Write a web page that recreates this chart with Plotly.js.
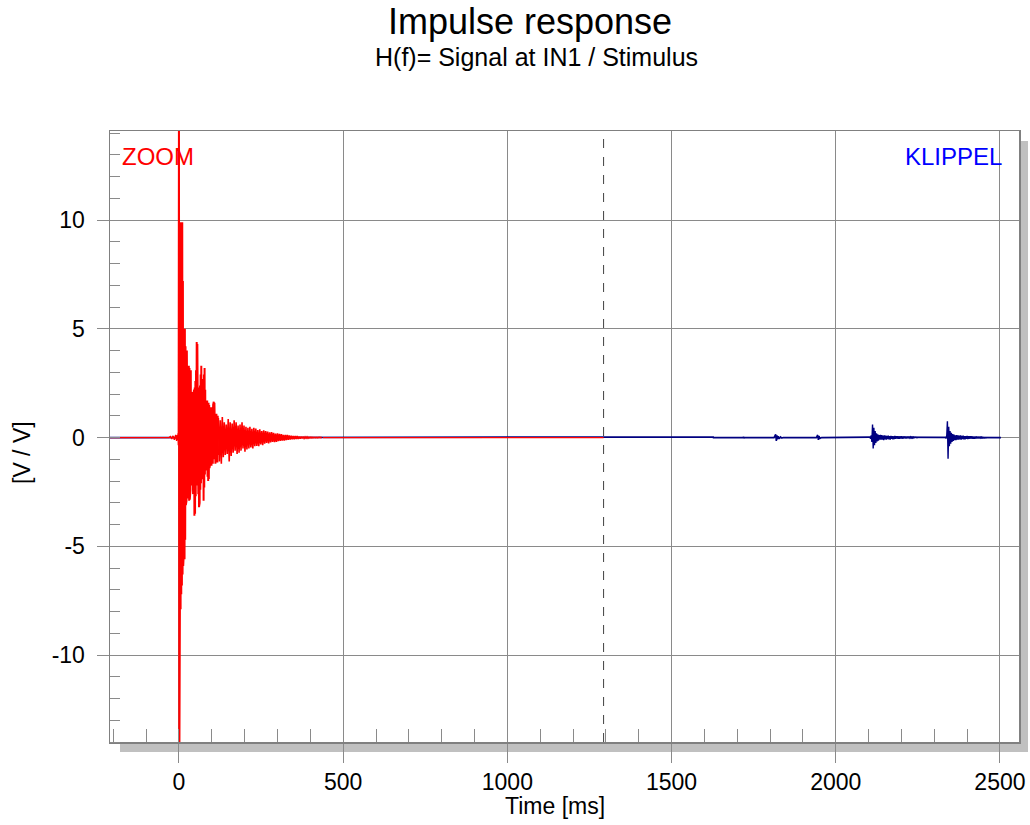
<!DOCTYPE html>
<html>
<head>
<meta charset="utf-8">
<script src="https://cdn.plot.ly/plotly-3.0.1.min.js"></script>
<style>html,body{margin:0;padding:0;background:#fff;}#chart{width:1030px;height:825px;}</style>
</head>
<body>
<div id="chart"></div>
<script>
// ---- Data ----
// Red "ZOOM" trace: lead-in before the impulse (time ms / value V/V)
var redPreT = [-210, -30, -26, -22, -18, -14, -10, -7, -5];
var redPreV = [0, 0, 0.05, -0.06, 0.08, -0.1, 0.12, -0.15, 0.12];
// Red head: samples every 1 ms starting at -4 ms
var redHeadStart = -4, redHeadStep = 1;
var redHeadV = [
  0.08, -0.12, 0.18, -0.35, 16, -16, 10.0, -7.4, 9.8, -7.9,
  9.9, -7.2, 9.6, -6.8, 9.9, -6.3, 7.2, -5.9, 5.4, -5.2,
  4.8, -5.6, 5.0, -4.7, 4.2, -3.1, 3.6, -2.9, 4.0, -2.6,
  3.4, -2.8, 3.1, -2.5, 3.3, -2.9, 3.2, -2.85, 2.7, -2.4,
  3.1, -2.2, 2.5, -2.0, 2.1, -2.3, 1.9, -2.6, 2.0, -3.0,
  2.2, -3.6, 2.3, -3.5, 2.6, -2.7, 3.1, -2.2, 4.4, -1.9,
  4.3, -2.1, 2.8, -2.6, 2.3, -3.2, 2.1, -3.0, 2.4, -2.4,
  2.9, -2.1, 3.3, -1.9, 2.6, -1.8, 2.4, -2.5, 2.7, -2.9,
  2.9, -2.3, 3.2, -1.7, 2.2, -1.5, 1.8, -1.4, 1.6, -1.6,
  1.7, -1.8, 1.5, -2.0, 1.6, -1.9, 1.5, -1.4, 1.3, -1.2,
  1.4, -1.1, 1.2, -1.3, 1.4, -1.0, 1.3, -1.2, 1.5, -0.9,
  1.65, -1.0, 1.6, -1.1, 1.2, -1.2, 1.0, -0.9, 1.1, -1.0,
  0.9, -1.15, 1.0, -0.8
];
// Red tail: samples every 3 ms starting at 120 ms
var redTailStart = 120, redTailStep = 3;
var redTailV = [
  0.9, -1.1, 0.8, -1.2, 0.95, -0.9, 0.7, -0.8, 0.6, -0.75,
  0.85, -1.1, 0.7, -0.85, 0.65, -0.7, 0.8, -0.6, 0.7, -0.75,
  0.55, -0.7, 0.6, -0.6, 0.7, -0.5, 0.55, -0.65, 0.5, -0.55,
  0.45, -0.5, 0.5, -0.45, 0.4, -0.5, 0.45, -0.4, 0.42, -0.38,
  0.35, -0.4, 0.38, -0.32, 0.3, -0.35, 0.33, -0.28, 0.3, -0.25,
  0.28, -0.27, 0.24, -0.22, 0.25, -0.2, 0.22, -0.21, 0.18, -0.2,
  0.19, -0.16, 0.17, -0.15, 0.16, -0.14, 0.13, -0.14, 0.12, -0.11,
  0.12, -0.1, 0.1, -0.09, 0.09, -0.08, 0.08, -0.08, 0.07, -0.06,
  0.07, -0.06, 0.05, -0.05, 0.05, -0.04, 0.04, -0.04, 0.03, -0.03,
  0.03, -0.03, 0.02, -0.02, 0.02, -0.02, 0.02, -0.01, 0.01, -0.01,
  0.01, -0.01, 0.01, 0, 0, 0
];
var redPostT = [438, 1293];
var redPostV = [0, 0];

// Blue "KLIPPEL" trace: sparse part (time ms / value V/V)
var blueT = [-210, 1626, 1627, 1628, 1629, 1718, 1719, 1720, 1721, 1812, 1815, 1817, 1819, 1821, 1823, 1825, 1828, 1832, 1836, 1840,
             1941, 1943, 1945, 1947, 1949, 1952, 1957, 2104, 2460, 2503];
var blueV = [0, 0, 0.03, -0.03, 0, 0, 0.04, -0.04, 0, 0, 0.06, 0.15, -0.15, 0.1, -0.08, 0.06, -0.05, 0.03, -0.02, 0,
             0, 0.05, 0.12, -0.11, 0.07, -0.04, 0, 0.02, 0, 0];
// Blue echo 1: samples every 2 ms from 2104 ms
var blueEcho1Start = 2104, blueEcho1Step = 2;
var blueEcho1V = [
  0.02, -0.05, 0.1, -0.2, 0.6, -0.5, 0.45, -0.35, 0.3, -0.25,
  0.2, -0.18, 0.15, -0.14, 0.12, -0.1, 0.13, -0.09, 0.11, -0.1,
  0.09, -0.12, 0.1, -0.08, 0.09, -0.1, 0.08, -0.07, 0.09, -0.08,
  0.07, -0.09, 0.08, -0.06, 0.07, -0.08, 0.06, -0.07, 0.08, -0.06,
  0.06, -0.05, 0.07, -0.06, 0.05, -0.06, 0.05, -0.04, 0.06, -0.05,
  0.04, -0.04, 0.05, -0.03, 0.04, -0.04, 0.03, -0.03, 0.04, -0.03,
  0.03, -0.02, 0.03, -0.02, 0.02, -0.02, 0.02, -0.01, 0.01, -0.01,
  0.01, 0, 0, 0
];
// Blue echo 2: samples every 2 ms from 2334 ms
var blueEcho2Start = 2334, blueEcho2Step = 2;
var blueEcho2V = [
  0.02, -0.04, 0.1, 0.75, -0.97, 0.5, -0.4, 0.3, -0.28, 0.22,
  -0.2, 0.16, -0.15, 0.14, -0.12, 0.1, -0.12, 0.11, -0.09, 0.1,
  -0.1, 0.09, -0.08, 0.1, -0.09, 0.08, -0.07, 0.09, -0.08, 0.07,
  -0.08, 0.07, -0.06, 0.08, -0.07, 0.06, -0.06, 0.07, -0.05, 0.06,
  -0.05, 0.05, -0.06, 0.04, -0.05, 0.04, -0.04, 0.05, -0.03, 0.04,
  -0.03, 0.03, -0.03, 0.02, -0.02, 0.02, -0.02, 0.01, -0.01, 0.01,
  -0.01, 0, 0, 0
];
var windowEnd = 1293; // dashed marker (ms)

// Tick labels
var xTickVals = [0, 500, 1000, 1500, 2000, 2500];
var xTickText = ['0', '500', '1000', '1500', '2000', '2500'];
var yTickVals = [-10, -5, 0, 5, 10];
var yTickText = ['-10', '-5', '0', '5', '10'];

// ---- Styling ----
var RED = '#ff0000', NAVY = '#000080';
var FONT = 'Liberation Sans, Arial, sans-serif';
var ln = function(c, w){ return {color: c, width: w}; };

var traces = [
  {type:'scatter', mode:'lines', x: blueT, y: blueV, line: ln(NAVY, 1.6), hoverinfo:'skip'},
  {type:'scatter', mode:'lines', x0: blueEcho1Start, dx: blueEcho1Step, y: blueEcho1V, line: ln(NAVY, 1.4), hoverinfo:'skip'},
  {type:'scatter', mode:'lines', x0: blueEcho2Start, dx: blueEcho2Step, y: blueEcho2V, line: ln(NAVY, 1.4), hoverinfo:'skip'},
  {type:'scatter', mode:'lines', x: redPreT, y: redPreV, line: ln(RED, 1.4), hoverinfo:'skip'},
  {type:'scatter', mode:'lines', x0: redHeadStart, dx: redHeadStep, y: redHeadV, line: ln(RED, 2), hoverinfo:'skip'},
  {type:'scatter', mode:'lines', x0: redTailStart, dx: redTailStep, y: redTailV, line: ln(RED, 1.6), hoverinfo:'skip'},
  {type:'scatter', mode:'lines', x: redPostT, y: redPostV, line: ln(RED, 1.4), hoverinfo:'skip'}
];

var W = 1030, H = 825, ML = 110, MR = 11, MT = 131, MB = 83;
var PW = W - ML - MR, PH = H - MT - MB;
function px(xp){ return (xp - ML) / PW; }
function py(yp){ return (H - MB - yp) / PH; }

var GRID = '#8a8a8a';
var layout = {
  width: W, height: H,
  margin: {l: ML, r: MR, t: MT, b: MB, pad: 0},
  paper_bgcolor: '#ffffff', plot_bgcolor: '#ffffff',
  showlegend: false,
  font: {family: FONT, size: 23, color: '#000'},
  title: {text: 'Impulse response', font: {family: FONT, size: 36, color: '#000'},
          xref: 'container', x: 530 / W, xanchor: 'center',
          yref: 'container', y: 1 - 21 / H, yanchor: 'middle'},
  xaxis: {
    range: [-210, 2558], tickmode: 'array', tickvals: xTickVals, ticktext: xTickText,
    showgrid: true, gridcolor: GRID, gridwidth: 1,
    zeroline: false,
    showline: true, mirror: true, linecolor: '#808080', linewidth: 1.5,
    ticks: 'outside', ticklen: 19, tickcolor: GRID, tickwidth: 1,
    ticklabelstandoff: 0,
    minor: {dtick: 100, tick0: 0, ticks: 'inside', ticklen: 13, tickcolor: '#8a8a8a', tickwidth: 1, showgrid: false},
    tickfont: {family: FONT, size: 23, color: '#000'}
  },
  yaxis: {
    range: [-14, 14.1], tickmode: 'array', tickvals: yTickVals, ticktext: yTickText,
    showgrid: true, gridcolor: GRID, gridwidth: 1,
    zeroline: false,
    showline: true, mirror: true, linecolor: '#808080', linewidth: 1.5,
    ticks: 'outside', ticklen: 12, tickcolor: GRID, tickwidth: 1,
    ticklabelstandoff: 7,
    minor: {dtick: 1, tick0: 0, ticks: 'inside', ticklen: 10, tickcolor: '#8a8a8a', tickwidth: 1, showgrid: false},
    tickfont: {family: FONT, size: 23, color: '#000'}
  },
  shapes: [
    {type:'rect', xref:'paper', yref:'paper', layer:'below', line:{width:0}, fillcolor:'#c0c0c0',
     x0: px(120), x1: px(1028), y0: py(752), y1: py(743)},
    {type:'rect', xref:'paper', yref:'paper', layer:'below', line:{width:0}, fillcolor:'#c0c0c0',
     x0: px(1020), x1: px(1028), y0: py(752), y1: py(141)},
    {type:'line', xref:'x', yref:'paper', x0: windowEnd, x1: windowEnd, y0: 0, y1: 1,
     line:{color:'#404040', width:1, dash:'dash'}}
  ],
  annotations: [
    {text: 'H(f)= Signal at IN1 / Stimulus', xref:'paper', yref:'paper', x: px(536), y: py(57),
     xanchor:'center', yanchor:'middle', showarrow:false, font:{family: FONT, size: 25, color:'#000'}},
    {text: 'Time [ms]', xref:'paper', yref:'paper', x: px(555), y: py(806),
     xanchor:'center', yanchor:'middle', showarrow:false, font:{family: FONT, size: 23, color:'#000'}},
    {text: '[V / V]', xref:'paper', yref:'paper', x: px(22), y: py(453), textangle: -90,
     xanchor:'center', yanchor:'middle', showarrow:false, font:{family: FONT, size: 23, color:'#000'}},
    {text: 'ZOOM', xref:'paper', yref:'paper', x: px(120), y: py(157),
     xanchor:'left', yanchor:'middle', showarrow:false, font:{family: FONT, size: 24, color: RED}},
    {text: 'KLIPPEL', xref:'paper', yref:'paper', x: px(1004), y: py(157),
     xanchor:'right', yanchor:'middle', showarrow:false, font:{family: FONT, size: 24, color:'#0000ff'}}
  ]
};

Plotly.newPlot('chart', traces, layout, {staticPlot: true, displayModeBar: false});
</script>
</body>
</html>
